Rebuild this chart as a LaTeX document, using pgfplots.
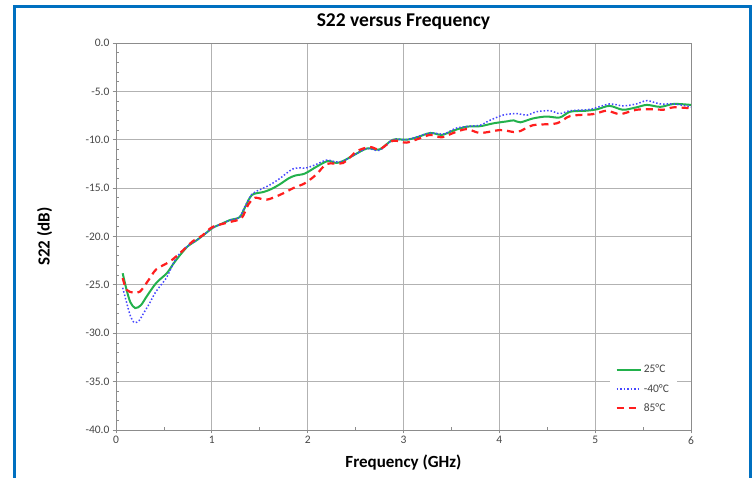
\documentclass[border=0pt]{standalone}
\usepackage{fontspec}
\setmainfont{Carlito}
\usepackage{pgfplots}
\pgfplotsset{compat=1.18}

\definecolor{frameblue}{RGB}{0,112,192}
\definecolor{cgreen}{RGB}{34,177,76}
\definecolor{cblue}{RGB}{70,70,255}
\definecolor{cred}{RGB}{255,30,30}
\definecolor{ticktxt}{RGB}{70,70,70}

\begin{document}
\begin{tikzpicture}[x=1pt,y=1pt]
\path[use as bounding box] (0,0) rectangle (753,478);
\draw[frameblue, line width=3pt] (14,-5) -- (14,471.7) -- (750,471.7) -- (750,-5);

\begin{axis}[
  at={(116pt,48pt)}, anchor=south west,
  scale only axis, width=575pt, height=387pt,
  xmin=0, xmax=6, ymin=-40, ymax=0,
  xtick={0,1,...,6},
  xticklabels={0,1,2,3,4,5,6},
  ytick={-40,-35,...,0},
  yticklabels={-40.0,-35.0,-30.0,-25.0,-20.0,-15.0,-10.0,-5.0,0.0},
  minor x tick num=1, minor y tick num=4,
  xtick pos=bottom, ytick pos=left,
  tick align=inside,
  major tick length=3.5pt, minor tick length=2.5pt,
  major x tick style={yshift=-3.5pt},
  major y tick style={xshift=-3.5pt},
  /pgf/number format/assume math mode=true,
  tick label style={font=\fontsize{11.5}{13}\selectfont, text=ticktxt},
  yticklabel style={xshift=-3pt},
  xticklabel style={yshift=-3pt},
  axis line style={draw=black!45, line width=0.9pt},
  every tick/.style={draw=black!45, line width=0.8pt},
  grid=major,
  major grid style={draw=black!30, line width=0.9pt},
  title={S22 versus Frequency},
  title style={at={(axis description cs:0.5,1.04)}, anchor=center, font=\fontsize{19.5}{21}\bfseries\selectfont},
  xlabel={Frequency (GHz)},
  xlabel style={at={(axis description cs:0.5,-0.085)}, anchor=center, font=\fontsize{17}{19}\bfseries\selectfont},
  ylabel={S22 (dB)},
  ylabel style={at={(axis description cs:-0.124,0.5)}, anchor=center, rotate=0, font=\fontsize{17}{19}\bfseries\selectfont},
  legend style={at={(axis description cs:0.917,0.106)}, anchor=center, draw=none, fill=white,
    font=\fontsize{11.5}{13}\selectfont, text=ticktxt, row sep=6pt, inner xsep=6pt, inner ysep=3pt},
  legend cell align=left,
  legend image code/.code={\draw[#1] (0pt,0pt) -- (24pt,0pt);},
]
\addplot[cgreen, line width=2pt, smooth, tension=0.5] coordinates {
(0.07,-23.8) (0.11,-25.5) (0.15,-26.8) (0.2,-27.4) (0.26,-27.1) (0.32,-26.2) (0.42,-24.8)
(0.53,-23.8) (0.6,-22.8) (0.67,-21.9) (0.75,-21.0) (0.84,-20.4) (0.92,-19.8) (1.01,-19.1)
(1.1,-18.7) (1.19,-18.3) (1.29,-18.0) (1.35,-16.9) (1.42,-15.7) (1.54,-15.4) (1.62,-15.1)
(1.71,-14.6) (1.8,-14.0) (1.87,-13.7) (1.97,-13.5) (2.09,-12.8) (2.21,-12.2) (2.3,-12.4)
(2.37,-12.2) (2.48,-11.6) (2.62,-10.9) (2.75,-11.0) (2.89,-10.0) (3.03,-10.0) (3.14,-9.75)
(3.28,-9.3) (3.40,-9.5) (3.52,-9.06) (3.66,-8.65) (3.8,-8.6) (3.94,-8.3) (4.08,-8.1)
(4.15,-8.0) (4.22,-8.2) (4.35,-7.8) (4.49,-7.6) (4.63,-7.7) (4.74,-7.1) (4.91,-7.0)
(5.02,-6.85) (5.15,-6.5) (5.29,-6.9) (5.43,-6.65) (5.54,-6.4) (5.68,-6.6) (5.82,-6.3) (6.0,-6.4)
};
\addlegendentry{25°C}
\addplot[cblue, line width=1.5pt, dotted, smooth, tension=0.5] coordinates {
(0.07,-25.3) (0.11,-26.8) (0.15,-28.2) (0.19,-28.9) (0.24,-28.7) (0.29,-27.9) (0.35,-26.9)
(0.41,-25.8) (0.47,-25.0) (0.53,-24.2) (0.63,-22.2) (0.74,-21.05) (0.84,-20.4) (0.92,-19.8)
(1.01,-19.1) (1.1,-18.7) (1.19,-18.3) (1.29,-18.0) (1.35,-16.8) (1.42,-15.6) (1.47,-15.3)
(1.6,-14.7) (1.71,-14.0) (1.85,-13.0) (1.99,-12.9) (2.1,-12.5) (2.2,-12.1) (2.3,-12.3)
(2.37,-12.2) (2.5,-11.5) (2.62,-10.9) (2.75,-11.1) (2.89,-10.0) (3.03,-10.0) (3.14,-9.7)
(3.28,-9.3) (3.42,-9.4) (3.55,-8.8) (3.69,-8.6) (3.8,-8.5) (3.9,-8.0) (4.04,-7.45)
(4.18,-7.3) (4.29,-7.45) (4.39,-7.1) (4.53,-7.0) (4.63,-7.3) (4.74,-7.0) (4.95,-6.85)
(5.15,-6.3) (5.29,-6.5) (5.43,-6.3) (5.54,-5.96) (5.68,-6.3) (5.82,-6.3) (6.0,-6.6)
};
\addlegendentry{-40°C}
\addplot[cred, line width=2.2pt, dash pattern=on 7pt off 5pt, smooth, tension=0.5] coordinates {
(0.07,-24.3) (0.11,-25.5) (0.18,-25.8) (0.25,-25.7) (0.34,-24.5) (0.42,-23.4) (0.56,-22.6)
(0.67,-21.7) (0.8,-20.5) (0.9,-19.9) (1.01,-19.0) (1.19,-18.5) (1.31,-18.1) (1.38,-16.7)
(1.45,-16.0) (1.57,-16.2) (1.71,-15.7) (1.85,-15.0) (1.97,-14.5) (2.09,-13.6) (2.2,-12.5)
(2.37,-12.4) (2.51,-11.2) (2.65,-10.75) (2.75,-11.0) (2.89,-10.1) (3.03,-10.3) (3.17,-9.85)
(3.28,-9.5) (3.40,-9.75) (3.52,-9.3) (3.66,-8.9) (3.8,-9.3) (4.01,-9.0) (4.15,-9.2)
(4.22,-9.1) (4.35,-8.5) (4.6,-8.3) (4.74,-7.55) (4.98,-7.35) (5.12,-7.0) (5.26,-7.35)
(5.43,-6.9) (5.61,-6.85) (5.71,-6.9) (5.82,-6.65) (6.0,-6.75)
};
\addlegendentry{85°C}
\end{axis}
\end{tikzpicture}
\end{document}
